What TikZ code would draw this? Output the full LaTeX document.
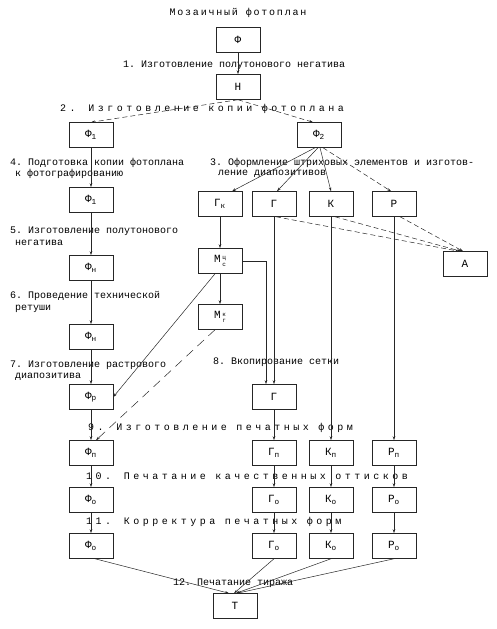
\documentclass[tikz,border=0pt]{standalone}
\usepackage{fontspec}
\setmainfont{Liberation Serif}
\setmonofont{Liberation Mono}
\newfontfamily\spacedfont[LetterSpace=35]{Liberation Mono}
\newfontfamily\titlefont[LetterSpace=18]{Liberation Mono}
\usepackage{tikz}
\usetikzlibrary{arrows.meta, calc}
\colorlet{line-color}{black!85}
\newcommand{\supsub}[2]{\kern1.5pt\raisebox{-4pt}{\fontsize{6}{11.5}\selectfont\shortstack[l]{#1\\#2}}}
\tikzset{
    box/.style = {draw=line-color, line width=0.5pt, minimum width=44pt, minimum height=25pt,
        inner sep=0pt, font=\ttfamily\fontsize{11}{11}\selectfont},
    step_label/.style = {anchor=west, inner sep=0pt, font=\ttfamily\fontsize{10}{10}\selectfont},
    spaced_label/.style = {anchor=west, inner sep=0pt, font=\spacedfont\fontsize{10}{10}\selectfont},
    title_label/.style = {inner sep=0pt, font=\titlefont\fontsize{10}{10}\selectfont},
    flow/.style = {draw=line-color, line width=0.5pt, -{Stealth[length=4pt,width=2.5pt]}},
    side_flow/.style = {flow, dash pattern=on 5pt off 3pt},
}

\begin{document}
\begin{tikzpicture}[x=1pt, y=-1pt]
    \useasboundingbox (0,0) rectangle (497,629);

    % top and left column
    \node[title_label] (title) at (238,13) {Мозаичный фотоплан};
    \node[box] (f) at (238,40) {Ф};
    \node[step_label] (step1) at (123,65) {1. Изготовление полутонового негатива};
    \node[box] (n) at (238,87) {Н};
    \node[spaced_label] (step2) at (60,109) {2. Изготовление копии фотоплана};
    \node[box] (f1) at (91,135) {Ф\textsubscript{1}};
    \node[step_label] (step4a) at (10,163) {4. Подготовка копии фотоплана};
    \node[step_label] (step4b) at (15,174) {к фотографированию};
    \node[box] (f1b) at (91,200) {Ф\textsubscript{1}};
    \node[step_label] (step5a) at (10,231) {5. Изготовление полутонового};
    \node[step_label] (step5b) at (15,243) {негатива};
    \node[box] (fn) at (91,268) {Ф\textsubscript{н}};
    \node[step_label] (step6a) at (10,296) {6. Проведение технической};
    \node[step_label] (step6b) at (15,309) {ретуши};
    \node[box] (fn2) at (91,337) {Ф\textsubscript{н}};
    \node[step_label] (step7a) at (10,365) {7. Изготовление растрового};
    \node[step_label] (step7b) at (15,377) {диапозитива};
    \node[box] (fr) at (91,397) {Ф\textsubscript{р}};
    \node[spaced_label] (step9) at (88,428) {9. Изготовление печатных форм};
    \node[box] (fp) at (91,453) {Ф\textsubscript{п}};
    \node[spaced_label] (step10) at (86,476) {10. Печатание качественных оттисков};
    \node[box] (fo1) at (91,500) {Ф\textsubscript{о}};
    \node[spaced_label] (step11) at (86,522) {11. Корректура печатных форм};
    \node[box] (fo2) at (91,546) {Ф\textsubscript{о}};
    \node[step_label] (step12) at (173,583) {12. Печатание тиража};
    \node[box] (t) at (235,606) {Т};

    % right part
    \node[box] (f2) at (319,135) {Ф\textsubscript{2}};
    \node[step_label] (step3a) at (210,163) {3. Оформление штриховых элементов и изготов-};
    \node[step_label] (step3b) at (218,174) {ление диапозитивов};
    \node[box] (gk) at (220,204) {Г\textsubscript{к}};
    \node[box] (g) at (274,204) {Г};
    \node[box] (k) at (331,204) {К};
    \node[box] (r) at (394,204) {Р};
    \node[box] (a) at (465,264) {А};
    \node[box] (mc) at (220,261) {М\supsub{ц}{с}};
    \node[box] (mk) at (220,317) {М\supsub{к}{г}};
    \node[step_label] (step8) at (213,362) {8. Вкопирование сетки};
    \node[box] (g2) at (274,397) {Г};
    \node[box] (gp) at (274,453) {Г\textsubscript{п}};
    \node[box] (kp) at (331,453) {К\textsubscript{п}};
    \node[box] (rp) at (394,453) {Р\textsubscript{п}};
    \node[box] (go1) at (274,500) {Г\textsubscript{о}};
    \node[box] (ko1) at (331,500) {К\textsubscript{о}};
    \node[box] (ro1) at (394,500) {Р\textsubscript{о}};
    \node[box] (go2) at (274,546) {Г\textsubscript{о}};
    \node[box] (ko2) at (331,546) {К\textsubscript{о}};
    \node[box] (ro2) at (394,546) {Р\textsubscript{о}};

    % connectors
    \draw[flow] (f) -- (n);
    \draw[side_flow] (n.south) -- (f1.north);
    \draw[side_flow] (n.south) -- ([xshift=-6pt]f2.north);
    \draw[flow] (f1) -- (f1b);
    \draw[flow] (f1b) -- (fn);
    \draw[flow] (fn) -- (fn2);
    \draw[flow] (fn2) -- (fr);
    \draw[flow] (fr) -- (fp);
    \draw[flow] (fp) -- (fo1);
    \draw[flow] (fo1) -- (fo2);

    \draw[flow] ([xshift=-4pt]f2.south) -- ([xshift=12pt]gk.north);
    \draw[flow] ([xshift=-1pt]f2.south) -- ([xshift=3pt]g.north);
    \draw[flow] ([xshift=1pt]f2.south) -- (k.north);
    \draw[side_flow] ([xshift=4pt]f2.south) -- ([xshift=-3pt]r.north);
    \draw[side_flow] ([xshift=2pt]g.south) -- ([xshift=-6pt]a.north);
    \draw[side_flow] ([xshift=4pt]k.south) -- ([xshift=-4pt]a.north);
    \draw[side_flow] ([xshift=6pt]r.south) -- ([xshift=-2pt]a.north);

    \draw[flow] (gk) -- (mc);
    \draw[flow] (mc) -- (mk);
    \draw[flow] (mc.east) -| ([xshift=-8pt]g2.north);
    \draw[flow] (g) -- (g2);
    \draw[flow] ([xshift=-5pt]mc.south) -- (fr.east);
    \draw[flow, dash pattern=on 9pt off 6pt] ([xshift=-5pt]mk.south) -- ([xshift=5pt]fp.north);

    \draw[flow] (g2) -- (gp);
    \draw[flow] (k) -- (kp);
    \draw[flow] (r) -- (rp);
    \draw[flow] (gp) -- (go1);
    \draw[flow] (kp) -- (ko1);
    \draw[flow] (rp) -- (ro1);
    \draw[flow] (go1) -- (go2);
    \draw[flow] (ko1) -- (ko2);
    \draw[flow] (ro1) -- (ro2);

    \draw[flow] ([xshift=4pt]fo2.south) -- ([xshift=-6pt]t.north);
    \draw[flow] (go2.south) -- ([xshift=-1pt]t.north);
    \draw[flow] (ko2.south) -- ([xshift=1pt]t.north);
    \draw[flow] (ro2.south) -- ([xshift=2pt]t.north);
\end{tikzpicture}
\end{document}
